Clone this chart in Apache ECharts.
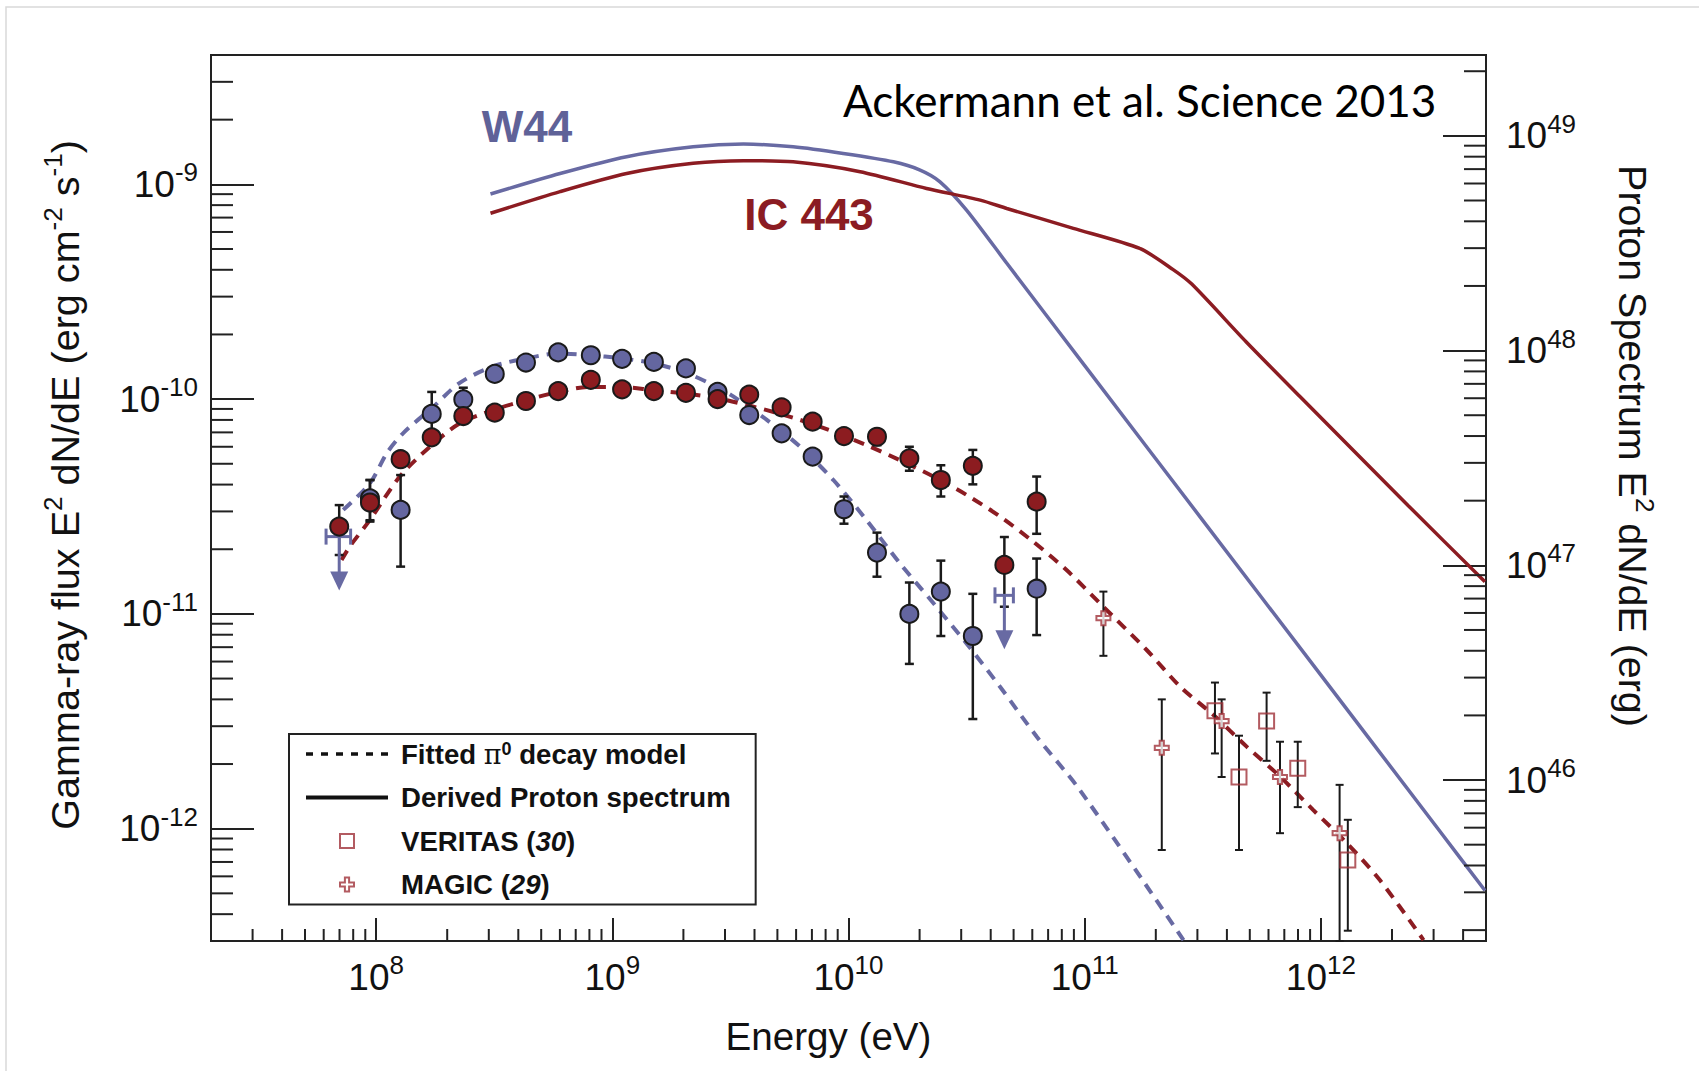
<!DOCTYPE html>
<html><head><meta charset="utf-8">
<script src="https://cdn.jsdelivr.net/npm/echarts@6/dist/echarts.min.js"></script>
<style>html,body{margin:0;padding:0;background:#fff}#c{width:1699px;height:1071px}</style>
</head><body><div id="c"></div>
<script>
// ---------------- data ----------------
const xMajorTicks = [1e8, 1e9, 1e10, 1e11, 1e12];
const yMajorTicks = [1e-12, 1e-11, 1e-10, 1e-9];
const rMajorTicks = [1e46, 1e47, 1e48, 1e49];
const xMinorTicks = [3e7,4e7,5e7,6e7,7e7,8e7,9e7, 2e8,3e8,4e8,5e8,6e8,7e8,8e8,9e8,
  2e9,3e9,4e9,5e9,6e9,7e9,8e9,9e9, 2e10,3e10,4e10,5e10,6e10,7e10,8e10,9e10,
  2e11,3e11,4e11,5e11,6e11,7e11,8e11,9e11, 2e12,3e12,4e12];
const yMinorTicks = [4e-13,5e-13,6e-13,7e-13,8e-13,9e-13,
  2e-12,3e-12,4e-12,5e-12,6e-12,7e-12,8e-12,9e-12,
  2e-11,3e-11,4e-11,5e-11,6e-11,7e-11,8e-11,9e-11,
  2e-10,3e-10,4e-10,5e-10,6e-10,7e-10,8e-10,9e-10, 2e-9,3e-9];
const rMinorTicks = [2e45,3e45,4e45,5e45,6e45,7e45,8e45,9e45,
  2e46,3e46,4e46,5e46,6e46,7e46,8e46,9e46,
  2e47,3e47,4e47,5e47,6e47,7e47,8e47,9e47,
  2e48,3e48,4e48,5e48,6e48,7e48,8e48,9e48, 2e49];

// [E (eV), flux, errLow, errHigh]
const w44Points = [
  [9.42e7, 3.45e-11, 2.73e-11, 4.20e-11],
  [1.27e8, 3.05e-11, 1.66e-11, 4.43e-11],
  [1.72e8, 8.53e-11, 6.60e-11, 1.08e-10],
  [2.34e8, 9.97e-11, 8.80e-11, 1.13e-10],
  [3.18e8, 1.31e-10, null, null],
  [4.31e8, 1.48e-10, null, null],
  [5.90e8, 1.65e-10, null, null],
  [8.11e8, 1.60e-10, null, null],
  [1.10e9, 1.54e-10, null, null],
  [1.50e9, 1.49e-10, null, null],
  [2.05e9, 1.39e-10, null, null],
  [2.79e9, 1.08e-10, null, null],
  [3.80e9, 8.43e-11, null, null],
  [5.21e9, 6.93e-11, null, null],
  [7.05e9, 5.40e-11, 5.00e-11, 5.80e-11],
  [9.57e9, 3.07e-11, 2.63e-11, 3.52e-11],
  [1.32e10, 1.93e-11, 1.49e-11, 2.39e-11],
  [1.81e10, 1.00e-11, 5.85e-12, 1.40e-11],
  [2.46e10, 1.27e-11, 7.89e-12, 1.77e-11],
  [3.36e10, 7.89e-12, 3.24e-12, 1.24e-11],
  [6.26e10, 1.31e-11, 7.97e-12, 1.81e-11]
];
// [E, upper limit, E low, E high]
const w44UpperLimits = [
  [6.98e7, 2.29e-11, 6.14e7, 7.80e7],
  [4.57e10, 1.22e-11, 4.17e10, 4.99e10]
];
const ic443Points = [
  [6.98e7, 2.55e-11, 1.88e-11, 3.21e-11],
  [9.42e7, 3.30e-11, 2.69e-11, 4.20e-11],
  [1.27e8, 5.25e-11, null, null],
  [1.72e8, 6.64e-11, null, null],
  [2.34e8, 8.34e-11, null, null],
  [3.18e8, 8.65e-11, null, null],
  [4.31e8, 9.80e-11, null, null],
  [5.90e8, 1.09e-10, null, null],
  [8.11e8, 1.23e-10, null, null],
  [1.10e9, 1.11e-10, null, null],
  [1.50e9, 1.09e-10, null, null],
  [2.05e9, 1.07e-10, null, null],
  [2.79e9, 1.00e-10, null, null],
  [3.80e9, 1.05e-10, null, null],
  [5.21e9, 9.16e-11, null, null],
  [7.05e9, 7.85e-11, null, null],
  [9.57e9, 6.73e-11, null, null],
  [1.32e10, 6.68e-11, 6.10e-11, 7.20e-11],
  [1.81e10, 5.30e-11, 4.64e-11, 6.00e-11],
  [2.46e10, 4.20e-11, 3.52e-11, 4.92e-11],
  [3.36e10, 4.89e-11, 4.01e-11, 5.80e-11],
  [4.57e10, 1.69e-11, 1.08e-11, 2.28e-11],
  [6.26e10, 3.33e-11, 2.36e-11, 4.36e-11]
];
const veritasPoints = [
  [3.56e11, 3.54e-12, 2.24e-12, 4.79e-12],
  [4.50e11, 1.74e-12, 7.96e-13, 2.71e-12],
  [5.89e11, 3.17e-12, 2.07e-12, 4.30e-12],
  [7.98e11, 1.91e-12, 1.26e-12, 2.54e-12],
  [1.30e12, 7.15e-13, 3.35e-13, 1.10e-12]
];
const magicPoints = [
  [1.20e11, 9.55e-12, 6.38e-12, 1.27e-11],
  [2.12e11, 2.38e-12, 7.96e-13, 4.00e-12],
  [3.80e11, 3.17e-12, 1.74e-12, 4.00e-12],
  [6.71e11, 1.74e-12, 9.53e-13, 2.54e-12],
  [1.20e12, 9.53e-13, 3.00e-13, 1.60e-12]
];
// fitted pi0 decay models [E, flux]
const w44Model = [
  [7.26e7, 3.05e-11], [9.42e7, 4.06e-11], [1.11e8, 5.60e-11], [1.30e8, 6.93e-11],
  [1.75e8, 9.23e-11], [2.26e8, 1.19e-10], [3.13e8, 1.42e-10], [4.35e8, 1.55e-10],
  [5.90e8, 1.63e-10], [8.05e8, 1.60e-10], [1.08e9, 1.55e-10], [1.49e9, 1.47e-10],
  [2.07e9, 1.32e-10], [2.77e9, 1.14e-10], [3.25e9, 1.03e-10], [4.51e9, 8.0e-11],
  [6.24e9, 6.0e-11], [8.63e9, 4.2e-11], [1.19e10, 2.74e-11], [1.65e10, 1.72e-11],
  [2.29e10, 1.12e-11], [3.16e10, 7.29e-12], [4.38e10, 4.58e-12], [6.27e10, 2.68e-12],
  [9.55e10, 1.51e-12], [2.62e11, 3.03e-13]
];
const ic443Model = [
  [7.14e7, 1.78e-11], [7.74e7, 2.06e-11], [9.42e7, 2.74e-11], [1.26e8, 4.36e-11],
  [1.69e8, 6.0e-11], [2.26e8, 7.71e-11], [3.13e8, 8.89e-11], [4.35e8, 9.91e-11],
  [5.90e8, 1.08e-10], [8.05e8, 1.14e-10], [1.08e9, 1.14e-10], [1.49e9, 1.10e-10],
  [2.07e9, 1.06e-10], [2.77e9, 1.01e-10], [3.25e9, 9.72e-11], [4.51e9, 8.89e-11],
  [6.24e9, 8.0e-11], [8.63e9, 7.05e-11], [1.19e10, 6.11e-11], [1.65e10, 5.2e-11],
  [2.29e10, 4.36e-11], [3.16e10, 3.58e-11], [4.38e10, 2.84e-11], [6.05e10, 2.17e-11],
  [8.38e10, 1.60e-11], [1.16e11, 1.12e-11], [1.83e11, 6.79e-12], [2.54e11, 4.58e-12],
  [3.51e11, 3.38e-12], [4.85e11, 2.41e-12], [6.71e11, 1.75e-12], [9.29e11, 1.22e-12],
  [1.29e12, 8.55e-13], [1.78e12, 5.75e-13], [2.72e12, 3.03e-13]
];
// derived proton spectra [E, E^2 dN/dE (erg)]
const w44Proton = [
  [3.05e8, 5.36e48], [6.01e8, 6.68e48], [1.15e9, 8.0e48], [2.20e9, 8.89e48],
  [3.59e9, 9.16e48], [5.83e9, 8.89e48], [9.5e9, 8.28e48], [1.55e10, 7.57e48],
  [2.01e10, 6.93e48], [2.44e10, 6.11e48], [3.16e10, 4.51e48], [4.68e10, 2.55e48],
  [1.0e11, 8.51e47], [3.16e11, 1.62e47], [1.0e12, 3.08e46], [3.16e12, 5.85e45],
  [4.95e12, 3.06e45]
];
const ic443Proton = [
  [3.05e8, 4.36e48], [6.01e8, 5.50e48], [1.15e9, 6.68e48], [2.20e9, 7.45e48],
  [3.59e9, 7.66e48], [5.83e9, 7.57e48], [1.12e10, 6.81e48], [2.14e10, 5.69e48],
  [3.61e10, 5.02e48], [4.68e10, 4.59e48], [8.95e10, 3.71e48], [1.71e11, 2.99e48],
  [2.36e11, 2.39e48], [2.84e11, 2.04e48], [4.82e11, 1.10e48], [8.15e11, 6.11e47],
  [2.35e12, 1.89e47], [4.95e12, 8.38e46]
];
const legendNames = ['Fitted π0 decay model', 'Derived Proton spectrum', 'VERITAS (30)', 'MAGIC (29)'];
const legendLabels = ['{t|Fitted }{p|π}{u|0}{t| decay model}', '{t|Derived Proton spectrum}',
  '{t|VERITAS (}{i|30}{t|)}', '{t|MAGIC (}{i|29}{t|)}'];

// ---------------- style ----------------
const FONT = '"Liberation Sans", Arial, Helvetica, sans-serif';
const BLUE = '#686aa3';
const BLUE_PT = '#6466a0';
const RED = '#8c1c22';
const RED_PT = '#8c1c20';
const RED_TEV = '#a0323a';
const INK = '#1a1a1a';

const supRich = {
  b: {fontFamily: FONT, fontSize: 37, lineHeight: 50, color: '#111'},
  s: {fontFamily: FONT, fontSize: 26, lineHeight: 26, verticalAlign: 'top', color: '#111'}
};
function titleRich(size) {
  return {
    t: {fontFamily: FONT, fontSize: size, lineHeight: 50, color: '#111'},
    u: {fontFamily: FONT, fontSize: Math.round(size * 0.66), lineHeight: 25, verticalAlign: 'top', color: '#111'}
  };
}
function powLabel(majors) {
  return function (v) {
    const lv = Math.log10(v);
    for (const m of majors) {
      const lm = Math.log10(m);
      if (Math.abs(lv - lm) < 1e-6) return '{b|10}{s|' + Math.round(lm) + '}';
    }
    return '';
  };
}
function errorBars(capHalf, width) {
  return function (params, api) {
    const lo = api.coord([api.value(0), api.value(1)]);
    const hi = api.coord([api.value(0), api.value(2)]);
    const st = () => ({stroke: INK, lineWidth: width});
    return {type: 'group', children: [
      {type: 'line', shape: {x1: lo[0], y1: lo[1], x2: hi[0], y2: hi[1]}, style: st()},
      {type: 'line', shape: {x1: lo[0] - capHalf, y1: lo[1], x2: lo[0] + capHalf, y2: lo[1]}, style: st()},
      {type: 'line', shape: {x1: hi[0] - capHalf, y1: hi[1], x2: hi[0] + capHalf, y2: hi[1]}, style: st()}
    ]};
  };
}
function upperLimits(params, api) {
  const c = api.coord([api.value(0), api.value(1)]);
  const l = api.coord([api.value(2), api.value(1)]);
  const r = api.coord([api.value(3), api.value(1)]);
  const st = () => ({stroke: BLUE, lineWidth: 3});
  return {type: 'group', children: [
    {type: 'line', shape: {x1: l[0], y1: l[1], x2: r[0], y2: r[1]}, style: st()},
    {type: 'line', shape: {x1: l[0], y1: l[1] - 8, x2: l[0], y2: l[1] + 8}, style: st()},
    {type: 'line', shape: {x1: r[0], y1: r[1] - 8, x2: r[0], y2: r[1] + 8}, style: st()},
    {type: 'line', shape: {x1: c[0], y1: c[1], x2: c[0], y2: c[1] + 38}, style: st()},
    {type: 'polygon', shape: {points: [[c[0] - 9, c[1] + 35], [c[0] + 9, c[1] + 35], [c[0], c[1] + 54]]}, style: {fill: BLUE}}
  ]};
}
function xMinorTick(params, api) {
  const cs = params.coordSys;
  const x = api.coord([api.value(0), api.value(1)])[0];
  const yb = cs.y + cs.height;
  return {type: 'line', shape: {x1: x, y1: yb, x2: x, y2: yb - 12}, style: {stroke: '#222', lineWidth: 2}};
}
function yMinorTick(side) {
  return function (params, api) {
    const cs = params.coordSys;
    const y = api.coord([api.value(0), api.value(1)])[1];
    const x0 = side === 'left' ? cs.x : cs.x + cs.width;
    const x1 = side === 'left' ? x0 + 22 : x0 - 22;
    return {type: 'line', shape: {x1: x0, y1: y, x2: x1, y2: y}, style: {stroke: '#222', lineWidth: 2}};
  };
}
const X_MIN = 2e7, X_MAX = 5e12, Y_MIN = 3e-13, Y_MAX = 4e-9, R_MIN = 1.78e45, R_MAX = 2.38e49;
const withErr = pts => pts.filter(p => p[2] != null).map(p => [p[0], p[2], p[3]]);
const pts = arr => arr.map(p => [p[0], p[1]]);

const axisLineStyle = {color: '#222', width: 2};
const option = {
  animation: false,
  backgroundColor: '#fff',
  grid: {left: 211, top: 55, width: 1275, height: 886, show: true, borderColor: '#222', borderWidth: 2,
    backgroundColor: 'rgba(0,0,0,0)', containLabel: false, outerBoundsMode: 'none'},
  xAxis: {
    type: 'log', logBase: 10, min: X_MIN, max: X_MAX,
    axisLine: {show: true, onZero: false, lineStyle: axisLineStyle},
    axisTick: {show: true, inside: true, length: 23, lineStyle: {color: '#222', width: 2}},
    axisLabel: {formatter: powLabel(xMajorTicks), margin: 11, rich: supRich, showMinLabel: false, showMaxLabel: false},
    splitLine: {show: false}, minorTick: {show: false},
    name: '{t|Energy (eV)}', nameLocation: 'middle', nameGap: 70, nameMoveOverlap: false,
    nameTextStyle: {rich: titleRich(38.6), padding: [0, 40, 0, 0]}
  },
  yAxis: [{
    type: 'log', logBase: 10, min: Y_MIN, max: Y_MAX, position: 'left',
    axisLine: {show: true, onZero: false, lineStyle: axisLineStyle},
    axisTick: {show: true, inside: true, length: 43, lineStyle: {color: '#222', width: 2}},
    axisLabel: {formatter: powLabel(yMajorTicks), margin: 13, rich: supRich, showMinLabel: false, showMaxLabel: false},
    splitLine: {show: false},
    name: '{t|Gamma-ray flux E}{u|2}{t| dN/dE (erg cm}{u|-2}{t| s}{u|-1}{t|)}',
    nameLocation: 'middle', nameRotate: 90, nameGap: 121, nameMoveOverlap: false,
    nameTextStyle: {rich: titleRich(39.6), padding: [0, 0, 0, 26]}
  }, {
    type: 'log', logBase: 10, min: R_MIN, max: R_MAX, position: 'right',
    axisLine: {show: true, onZero: false, lineStyle: axisLineStyle},
    axisTick: {show: true, inside: true, length: 43, lineStyle: {color: '#222', width: 2}},
    axisLabel: {formatter: powLabel(rMajorTicks), margin: 20, rich: supRich, showMinLabel: false, showMaxLabel: false},
    splitLine: {show: false},
    name: '{t|Proton Spectrum E}{u|2}{t| dN/dE (erg)}',
    nameLocation: 'middle', nameRotate: -90, nameGap: 122, nameMoveOverlap: false,
    nameTextStyle: {rich: titleRich(39.4), padding: [0, 104, 0, 0]}
  }],
  legend: {
    show: true, orient: 'vertical', left: 289, top: 734,
    padding: [6, 25, 6, 17], itemGap: 15.5, itemWidth: 82, itemHeight: 14,
    backgroundColor: '#fff', borderColor: '#222', borderWidth: 2, borderRadius: 0,
    selectedMode: false,
    data: [
      {name: legendNames[0], icon: 'path://M0,0h7v3.5h-7zM15,0h7v3.5h-7zM30,0h7v3.5h-7zM45,0h7v3.5h-7zM60,0h7v3.5h-7zM75,0h7v3.5h-7z', itemStyle: {color: '#111', borderWidth: 0}},
      {name: legendNames[1], icon: 'path://M0,0h82v4h-82z', itemStyle: {color: '#111', borderWidth: 0}},
      {name: legendNames[2], icon: 'path://M0,0h10v10h-10z', itemStyle: {color: 'rgba(0,0,0,0)', borderColor: RED_TEV, borderWidth: 2}},
      {name: legendNames[3], icon: 'path://M3.5,0H6.5V3.5H10V6.5H6.5V10H3.5V6.5H0V3.5H3.5Z', itemStyle: {color: '#fff', borderColor: RED_TEV, borderWidth: 2}}
    ],
    formatter: function (name) { return legendLabels[legendNames.indexOf(name)]; },
    textStyle: {
      padding: [0, 0, 0, 8],
      rich: {
        t: {fontFamily: FONT, fontSize: 27.6, fontWeight: 'bold', lineHeight: 28, color: '#111'},
        i: {fontFamily: FONT, fontSize: 27.6, fontWeight: 'bold', fontStyle: 'italic', lineHeight: 28, color: '#111'},
        p: {fontFamily: '"DejaVu Serif", serif', fontSize: 27, lineHeight: 28, color: '#111'},
        u: {fontFamily: FONT, fontSize: 18, fontWeight: 'bold', lineHeight: 17, verticalAlign: 'top', color: '#111'}
      }
    }
  },
  graphic: [
    {type: 'rect', silent: true, z: -10, shape: {x: 6, y: 7, width: 1800, height: 1200}, style: {fill: 'none', stroke: '#d9d9d9', lineWidth: 1.5}},
    {type: 'text', silent: true, x: 843, y: 100, style: {text: 'Ackermann et al. Science 2013', font: '44px Lato', fill: '#000', align: 'left', verticalAlign: 'middle'}},
    {type: 'text', silent: true, x: 527, y: 126, style: {text: 'W44', font: 'bold 44px ' + FONT, fill: '#5f6298', align: 'center', verticalAlign: 'middle'}},
    {type: 'text', silent: true, x: 809, y: 214, style: {text: 'IC 443', font: 'bold 44px ' + FONT, fill: '#8b1c22', align: 'center', verticalAlign: 'middle'}}
  ],
  series: [
    {name: legendNames[0], type: 'line', data: [], symbol: 'none', itemStyle: {color: '#111'}, lineStyle: {color: '#111', type: [8, 6], width: 4}},
    {name: legendNames[1], type: 'line', data: [], symbol: 'none', itemStyle: {color: '#111'}, lineStyle: {color: '#111', width: 4}},
    {name: 'W44 proton spectrum', type: 'line', yAxisIndex: 1, data: w44Proton, symbol: 'none', smooth: 0.25, z: 2,
      lineStyle: {color: BLUE, width: 3.5}},
    {name: 'IC 443 proton spectrum', type: 'line', yAxisIndex: 1, data: ic443Proton, symbol: 'none', smooth: 0.25, z: 2,
      lineStyle: {color: RED, width: 3.5}},
    {name: 'W44 pi0 model', type: 'line', data: w44Model, symbol: 'none', smooth: 0.3, z: 2,
      lineStyle: {color: BLUE, width: 4, type: [11, 8]}},
    {name: 'IC 443 pi0 model', type: 'line', data: ic443Model, symbol: 'none', smooth: 0.3, z: 2,
      lineStyle: {color: RED, width: 4, type: [11, 8]}},
    {name: 'W44 errors', type: 'custom', data: withErr(w44Points), renderItem: errorBars(4.5, 2.5), encode: {x: 0, y: [1, 2]}, z: 3, silent: true},
    {name: 'IC 443 errors', type: 'custom', data: withErr(ic443Points), renderItem: errorBars(4.5, 2.5), encode: {x: 0, y: [1, 2]}, z: 3, silent: true},
    {name: 'VERITAS errors', type: 'custom', data: withErr(veritasPoints), renderItem: errorBars(4, 2), encode: {x: 0, y: [1, 2]}, z: 3, silent: true},
    {name: 'MAGIC errors', type: 'custom', data: withErr(magicPoints), renderItem: errorBars(4, 2), encode: {x: 0, y: [1, 2]}, z: 3, silent: true},
    {name: 'W44 upper limits', type: 'custom', data: w44UpperLimits, renderItem: upperLimits, encode: {x: 0, y: 1}, z: 4, silent: true},
    {name: 'W44 Fermi', type: 'scatter', data: pts(w44Points), symbol: 'circle', symbolSize: 18, z: 5,
      itemStyle: {color: BLUE_PT, borderColor: INK, borderWidth: 2, opacity: 1}},
    {name: 'IC 443 Fermi', type: 'scatter', data: pts(ic443Points), symbol: 'circle', symbolSize: 18, z: 5,
      itemStyle: {color: RED_PT, borderColor: INK, borderWidth: 2, opacity: 1}},
    {name: legendNames[2], type: 'scatter', data: pts(veritasPoints), symbol: 'rect', symbolSize: 15, z: 5,
      itemStyle: {color: 'rgba(0,0,0,0)', borderColor: RED_TEV, borderWidth: 2}},
    {name: legendNames[3], type: 'scatter', data: pts(magicPoints), symbol: 'path://M3.5,0H6.5V3.5H10V6.5H6.5V10H3.5V6.5H0V3.5H3.5Z', symbolSize: 14, z: 5,
      itemStyle: {color: '#fff', borderColor: RED_TEV, borderWidth: 2}},
    {name: 'x minor ticks', type: 'custom', data: xMinorTicks.map(v => [v, Y_MIN]), renderItem: xMinorTick, z: 6, silent: true},
    {name: 'y minor ticks', type: 'custom', data: yMinorTicks.map(v => [X_MIN, v]), renderItem: yMinorTick('left'), z: 6, silent: true},
    {name: 'right minor ticks', type: 'custom', yAxisIndex: 1, data: rMinorTicks.map(v => [X_MIN, v]), renderItem: yMinorTick('right'), z: 6, silent: true}
  ]
};
const chart = echarts.init(document.getElementById('c'), null, {renderer: 'svg', width: 1699, height: 1071});
chart.setOption(option);
</script>
</body></html>
